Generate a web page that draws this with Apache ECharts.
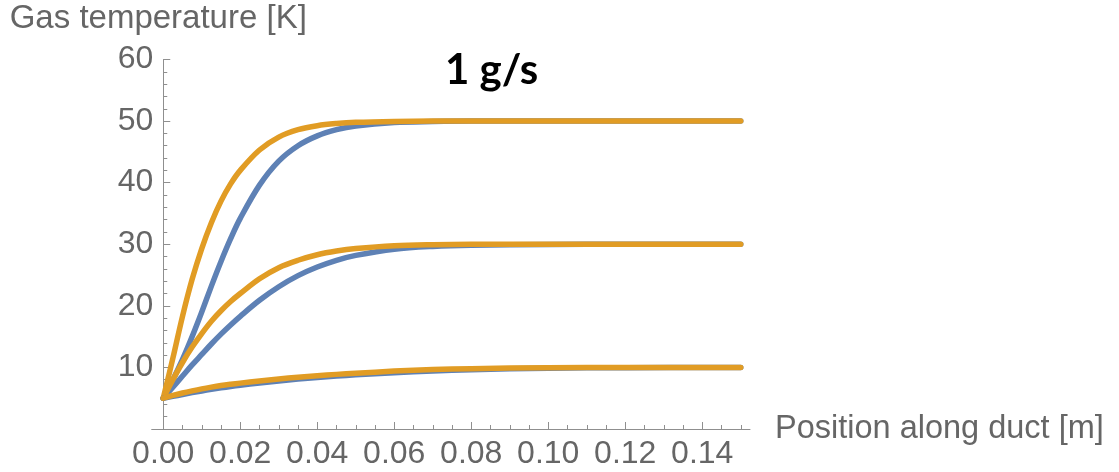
<!DOCTYPE html>
<html>
<head>
<meta charset="utf-8">
<script src="https://cdn.jsdelivr.net/npm/echarts@6/dist/echarts.min.js"></script>
<style>
  html, body { margin: 0; padding: 0; background: #ffffff; }
  #chart { width: 1119px; height: 472px; }
</style>
</head>
<body>
<div id="chart"></div>
<script>
// Position along the duct [m] at which temperatures are sampled
const positionM = [0, 0.0025, 0.005, 0.0075, 0.01, 0.0125, 0.015, 0.0175, 0.02, 0.025,
                   0.03, 0.035, 0.04, 0.045, 0.05, 0.06, 0.07, 0.08, 0.1, 0.12, 0.15];

// Gas temperature [K], wall at 50 K
const blue50   = [5, 8.0, 11.3, 15.0, 19.0, 23.2, 27.2, 30.9, 34.2, 39.6,
                  43.5, 46.0, 47.6, 48.6, 49.2, 49.75, 49.92, 50, 50, 50, 50];
const orange50 = [5, 11.5, 18.3, 24.3, 29.3, 33.5, 37.0, 39.8, 42.0, 45.3,
                  47.4, 48.6, 49.25, 49.6, 49.8, 49.95, 50, 50, 50, 50, 50];

// Wall at 30 K
const blue30   = [5, 6.8, 8.6, 10.4, 12.1, 13.8, 15.4, 16.9, 18.3, 20.9,
                  23.1, 24.9, 26.3, 27.4, 28.2, 29.2, 29.65, 29.85, 29.97, 30, 30];
const orange30 = [5, 8.0, 10.8, 13.3, 15.5, 17.5, 19.2, 20.7, 22.0, 24.4,
                  26.2, 27.4, 28.3, 28.9, 29.3, 29.75, 29.92, 29.98, 30, 30, 30];

// Wall at 10 K
const blue10   = [5, 5.3, 5.6, 5.9, 6.18, 6.44, 6.68, 6.9, 7.1, 7.47,
                  7.8, 8.1, 8.36, 8.6, 8.8, 9.15, 9.43, 9.63, 9.87, 9.96, 10];
const orange10 = [5, 5.45, 5.85, 6.2, 6.52, 6.8, 7.05, 7.26, 7.45, 7.8,
                  8.12, 8.4, 8.65, 8.87, 9.05, 9.4, 9.65, 9.8, 9.95, 9.99, 10];

// Axis ticks
const xMajorTicks = [0, 0.02, 0.04, 0.06, 0.08, 0.1, 0.12, 0.14];
const xMinorTicks = [0.005, 0.01, 0.015, 0.025, 0.03, 0.035, 0.045, 0.05, 0.055,
                     0.065, 0.07, 0.075, 0.085, 0.09, 0.095, 0.105, 0.11, 0.115,
                     0.125, 0.13, 0.135, 0.145, 0.15];

const X_MIN = -0.003;
const X_MAX = 0.1524;

const BLUE = '#5e81b5';
const ORANGE = '#e19c24';
const AXIS = '#8f8f8f';
const TEXT = '#666666';
const FONT = '"Liberation Sans", Arial, sans-serif';

const GRID = { left: 151.7, right: 369, top: 59.5, bottom: 43 };
const plotWidth = 1119 - GRID.left - GRID.right;
// the vertical axis sits at x = 0, a little inside the left edge of the grid
const yAxisShift = -plotWidth * (0 - X_MIN) / (X_MAX - X_MIN);

function pairs(ys) {
  return positionM.map((x, i) => [x, ys[i]]);
}

function curve(name, ys, color) {
  return {
    name: name,
    type: 'line',
    xAxisIndex: 0,
    yAxisIndex: 0,
    data: pairs(ys),
    smooth: 0.35,
    symbol: 'none',
    lineStyle: { color: color, width: 5.5, cap: 'round', join: 'round' },
    emphasis: { disabled: true }
  };
}

const chart = echarts.init(document.getElementById('chart'), null, { renderer: 'canvas' });

chart.setOption({
  animation: false,
  backgroundColor: '#ffffff',
  title: {
    text: '1 g/s',
    left: 440,
    top: 44,
    textStyle: { fontFamily: 'Lato, "Open Sans", sans-serif', fontWeight: 'bold', fontSize: 42, color: '#000000' }
  },
  grid: Object.assign({ containLabel: false }, GRID),
  xAxis: [
    {
      type: 'value',
      min: X_MIN,
      max: X_MAX,
      name: 'Position along duct [m]',
      nameLocation: 'end',
      nameGap: 25,
      nameTextStyle: { fontFamily: FONT, fontSize: 32.5, color: TEXT },
      axisLine: { show: true, onZero: false, lineStyle: { color: AXIS, width: 1 } },
      axisTick: { show: true, inside: true, length: 7, customValues: xMajorTicks, lineStyle: { color: AXIS } },
      axisLabel: {
        show: true, margin: 9, customValues: xMajorTicks,
        fontFamily: FONT, fontSize: 32, color: TEXT,
        formatter: v => Number(v).toFixed(2)
      },
      splitLine: { show: false }
    },
    {
      type: 'value',
      position: 'bottom',
      min: X_MIN,
      max: X_MAX,
      axisLine: { show: false, onZero: false },
      axisTick: { show: true, inside: true, length: 4, customValues: xMinorTicks, lineStyle: { color: AXIS } },
      axisLabel: { show: false },
      splitLine: { show: false }
    }
  ],
  yAxis: {
    type: 'value',
    min: 0,
    max: 60,
    interval: 10,
    offset: yAxisShift,
    name: 'Gas temperature [K]',
    nameLocation: 'end',
    nameGap: 24,
    nameTextStyle: { fontFamily: FONT, fontSize: 33, color: TEXT, align: 'center', padding: [0, 10, 0, 0] },
    axisLine: { show: true, onZero: false, lineStyle: { color: AXIS, width: 1 } },
    axisTick: { show: true, inside: true, length: 7, lineStyle: { color: AXIS } },
    minorTick: { show: true, splitNumber: 5, length: 4, lineStyle: { color: AXIS } },
    axisLabel: {
      show: true, margin: 10,
      fontFamily: FONT, fontSize: 32, color: TEXT,
      formatter: v => (v === 0 ? '' : String(v))
    },
    splitLine: { show: false },
    minorSplitLine: { show: false }
  },
  series: [
    curve('Wall 50 K, model A', blue50, BLUE),
    curve('Wall 50 K, model B', orange50, ORANGE),
    curve('Wall 30 K, model A', blue30, BLUE),
    curve('Wall 30 K, model B', orange30, ORANGE),
    curve('Wall 10 K, model A', blue10, BLUE),
    curve('Wall 10 K, model B', orange10, ORANGE)
  ]
});
</script>
</body>
</html>
